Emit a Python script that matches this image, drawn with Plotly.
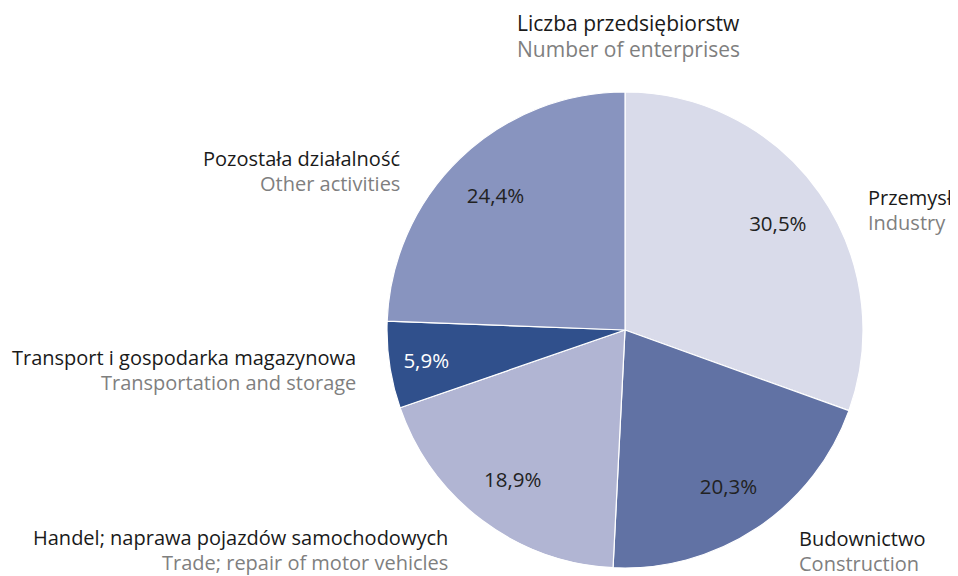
import plotly.graph_objects as go

labels_pl = ["Przemysł", "Budownictwo", "Handel; naprawa pojazdów samochodowych",
             "Transport i gospodarka magazynowa", "Pozostała działalność"]
labels_en = ["Industry", "Construction", "Trade; repair of motor vehicles",
             "Transportation and storage", "Other activities"]
values = [30.5, 20.3, 18.9, 5.9, 24.4]
colors = ["#d9dbea", "#6172a4", "#b1b5d3", "#30508c", "#8894bf"]
text_colors = ["#222222", "#222222", "#222222", "#ffffff", "#222222"]

# page body has an 8px margin, so the figure is 8px smaller and coordinates shifted
OFF = 8
W, H = 958 - OFF, 576 - OFF
cx, cy, r = 625 - OFF, 330 - OFF, 238
dom = dict(x=[(cx - r) / W, (cx + r) / W], y=[1 - (cy + r) / H, 1 - (cy - r) / H])
FONT = "Open Sans"

fig = go.Figure()
fig.add_trace(go.Pie(
    labels=labels_pl, values=values, sort=False, direction="clockwise", rotation=0,
    marker=dict(colors=colors, line=dict(color="white", width=1.2)),
    textinfo="none", hoverinfo="label+percent", showlegend=False, domain=dom,
))
# transparent ring used only to place the percentage labels further out
fig.add_trace(go.Pie(
    labels=labels_pl, values=values, sort=False, direction="clockwise", rotation=0,
    hole=0.57,
    marker=dict(colors=["rgba(0,0,0,0)"] * len(values), line=dict(width=0)),
    texttemplate="%{value:.1f}%", textposition="inside", insidetextorientation="horizontal",
    insidetextfont=dict(color=text_colors, size=20.5, family=FONT),
    hoverinfo="skip", showlegend=False, domain=dom,
))

ann = []
def add(x, y, t1, t2, anchor, size=20, gap=25):
    x -= OFF
    y -= OFF
    ann.append(dict(x=x / W, y=1 - y / H, xref="paper", yref="paper", text=t1, showarrow=False,
                    xanchor=anchor, yanchor="middle", font=dict(family=FONT, size=size, color="#1a1a1a")))
    ann.append(dict(x=x / W, y=1 - (y + gap) / H, xref="paper", yref="paper", text=t2, showarrow=False,
                    xanchor=anchor, yanchor="middle", font=dict(family=FONT, size=size, color="#7f7f7f")))

add(628, 23, "Liczba przedsiębiorstw", "Number of enterprises", "center", size=21, gap=26)
add(866, 197, labels_pl[0], labels_en[0], "left")
add(797, 538, labels_pl[1], labels_en[1], "left")
add(450, 537, labels_pl[2], labels_en[2], "right")
add(358, 357, labels_pl[3], labels_en[3], "right")
add(402, 158, labels_pl[4], labels_en[4], "right")

fig.update_layout(
    width=W, height=H,
    margin=dict(l=0, r=0, t=0, b=0),
    paper_bgcolor="white",
    separators=",.",
    annotations=ann,
    font=dict(family=FONT),
)
fig.write_html("out.html")
